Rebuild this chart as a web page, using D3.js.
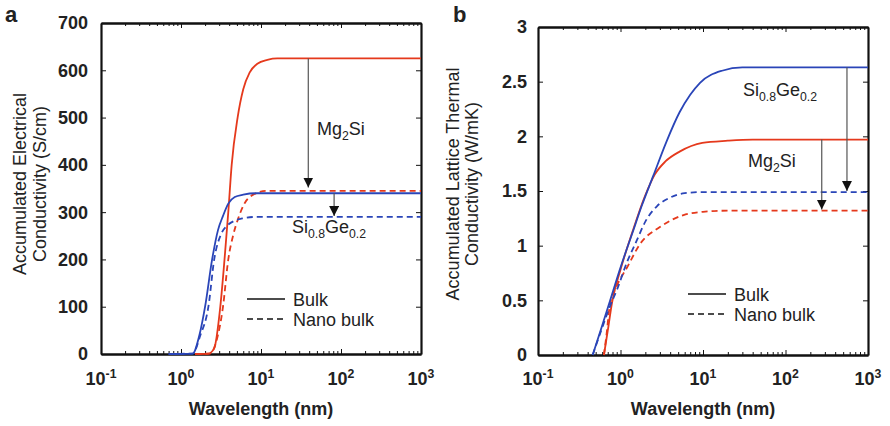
<!DOCTYPE html>
<html>
<head>
<meta charset="utf-8">
<script src="https://cdnjs.cloudflare.com/ajax/libs/d3/7.8.5/d3.min.js"></script>
<style>
    body { margin: 0; background: #fff; }
    text { font-family: "Liberation Sans", Arial, sans-serif; fill: #222; }
</style>
</head>
<body>
<script>
// wavelength axis (nm), shared by both panels
var wlDomain = [0.1, 1000];
var wlMajor = [0.1, 1, 10, 100, 1000];
var wlExp = ["-1", "0", "1", "2", "3"];

// panel a: accumulated electrical conductivity (S/cm), [wavelength, value]
var aTicks = [0, 100, 200, 300, 400, 500, 600, 700];
var aMgBulk = [[1.5, 0], [2.2, 1], [2.6, 12], [3.1, 100], [3.5, 200],
    [3.9, 300], [4.3, 400], [5.1, 500], [6, 560], [7.2, 595], [9, 614],
    [12, 622], [16, 625], [1000, 625]];
var aMgNano = [[1.5, 0], [2.3, 1], [2.8, 30], [3.35, 100], [3.9, 200],
    [4.5, 252], [5.1, 283], [6.3, 320], [8, 337], [12, 345], [1000, 345]];
var aSiBulk = [[0.7, 0], [1.4, 1], [1.7, 40], [2.0, 100], [2.45, 200],
    [2.9, 262], [3.35, 292], [3.9, 318], [4.7, 332], [6, 337], [8.5, 340],
    [1000, 340]];
var aSiNano = [[0.7, 0], [1.4, 1], [1.75, 40], [2.2, 100], [2.6, 200],
    [3.2, 255], [3.8, 272], [4.7, 282], [6, 287], [9, 290], [1000, 290]];

// panel b: accumulated lattice thermal conductivity (W/mK)
var bTicks = [0, 0.5, 1, 1.5, 2, 2.5, 3];
var bMgBulk = [[0.63, 0], [0.7, 0.22], [0.79, 0.48], [1.0, 0.78],
    [1.4, 1.13], [1.97, 1.45], [2.6, 1.65], [3.5, 1.77], [5.2, 1.86],
    [9.8, 1.94], [20, 1.96], [40, 1.97], [1000, 1.97]];
var bMgNano = [[0.63, 0], [0.68, 0.2], [0.74, 0.45], [0.9, 0.63],
    [1.2, 0.8], [1.74, 1.02], [3.0, 1.17], [5.8, 1.28], [10, 1.31],
    [20, 1.32], [1000, 1.32]];
var bSiBulk = [[0.46, 0], [0.6, 0.27], [0.75, 0.5], [1.0, 0.8],
    [1.4, 1.12], [1.8, 1.36], [2.5, 1.64], [3.6, 1.95], [5.2, 2.22],
    [7, 2.38], [9.2, 2.49], [17, 2.6], [30, 2.63], [1000, 2.63]];
var bSiNano = [[0.46, 0], [0.6, 0.25], [0.75, 0.45], [0.91, 0.6],
    [1.2, 0.85], [1.58, 1.05], [2.0, 1.22], [2.76, 1.36], [4.0, 1.44],
    [6, 1.48], [10, 1.49], [1000, 1.49]];

var red = "#e5391c", blue = "#2a45b8";

var svg = d3.select("body").append("svg")
    .attr("width", 890)
    .attr("height", 426);

svg.append("defs").append("marker")
    .attr("id", "head")
    .attr("viewBox", "0 0 10 10")
    .attr("refX", 10).attr("refY", 5)
    .attr("markerWidth", 10).attr("markerHeight", 10)
    .attr("markerUnits", "userSpaceOnUse")
    .attr("orient", "auto")
    .append("path")
    .attr("d", "M0,0 L10,5 L0,10 Z")
    .attr("fill", "#111");

// small helper for text with sub / superscript parts: [text, "sub"|"sup"|""]
function richText(sel, parts, size) {
    parts.forEach(function(p) {
        var t = sel.append("tspan").text(p[0]);
        if (p[1] === "sub") {
            t.attr("font-size", size * 0.68).attr("dy", size * 0.3);
        } else if (p[1] === "sup") {
            t.attr("font-size", size * 0.68).attr("dy", -size * 0.38);
        } else {
            t.attr("dy", p[2] || 0);
        }
    });
}

function drawPanel(o) {
    var x = d3.scaleLog().domain(wlDomain).range([o.left, o.right]);
    var y = d3.scaleLinear().domain([o.ticks[0], o.ticks[o.ticks.length - 1]])
        .range([o.bottom, o.top]);
    var g = svg.append("g");

    // minor ticks 2..9 in each decade
    var minor = [];
    wlMajor.slice(0, -1).forEach(function(d) {
        for (var k = 2; k < 10; k++) minor.push(d * k);
    });

    // bottom & top axes, ticks pointing in
    g.append("g")
        .attr("transform", "translate(0," + o.bottom + ")")
        .call(d3.axisBottom(x).tickValues(minor).tickSize(-3)
            .tickFormat("").tickSizeOuter(0));
    g.append("g")
        .attr("transform", "translate(0," + o.bottom + ")")
        .call(d3.axisBottom(x).tickValues(wlMajor).tickSize(-5)
            .tickFormat("").tickSizeOuter(0));
    g.append("g")
        .attr("transform", "translate(0," + o.top + ")")
        .call(d3.axisTop(x).tickValues(minor).tickSize(-3)
            .tickFormat("").tickSizeOuter(0));
    g.append("g")
        .attr("transform", "translate(0," + o.top + ")")
        .call(d3.axisTop(x).tickValues(wlMajor).tickSize(-5)
            .tickFormat("").tickSizeOuter(0));
    g.append("g")
        .attr("transform", "translate(" + o.left + ",0)")
        .call(d3.axisLeft(y).tickValues(o.ticks).tickSize(-5)
            .tickFormat("").tickSizeOuter(0));
    g.append("g")
        .attr("transform", "translate(" + o.right + ",0)")
        .call(d3.axisRight(y).tickValues(o.ticks).tickSize(-5)
            .tickFormat("").tickSizeOuter(0));
    g.selectAll(".domain").attr("stroke", "#111").attr("stroke-width", 2.2);
    g.selectAll(".tick line").attr("stroke", "#111").attr("stroke-width", 1);

    // y tick labels
    g.selectAll(".ylab")
        .data(o.ticks)
        .enter()
        .append("text")
        .attr("x", o.left - o.labGap)
        .attr("y", function(d) { return y(d); })
        .attr("dy", "0.36em")
        .attr("text-anchor", "end")
        .attr("font-size", 18)
        .attr("font-weight", "bold")
        .text(function(d) { return d; });

    // x tick labels as 10^n
    wlMajor.forEach(function(d, i) {
        var t = g.append("text")
            .attr("x", x(d))
            .attr("y", 385)
            .attr("text-anchor", "middle")
            .attr("font-size", 18)
            .attr("font-weight", "bold");
        richText(t, [["10", ""], [wlExp[i], "sup"]], 18);
    });

    g.append("text")
        .attr("x", (o.left + o.right) / 2)
        .attr("y", 415)
        .attr("text-anchor", "middle")
        .attr("font-size", 18)
        .attr("font-weight", "bold")
        .text("Wavelength (nm)");

    // two-line y title
    o.yTitle.forEach(function(s, i) {
        g.append("text")
            .attr("transform", "translate(" + o.yTitleX[i] + "," + o.yTitleY +
                ") rotate(-90)")
            .attr("text-anchor", "middle")
            .attr("font-size", 18)
            .text(s);
    });

    g.append("text")
        .attr("x", o.letterX).attr("y", 22)
        .attr("font-size", 22)
        .attr("font-weight", "bold")
        .text(o.letter);

    // curves
    var line = d3.line()
        .x(function(d) { return x(d[0]); })
        .y(function(d) { return y(d[1]); })
        .curve(d3.curveMonotoneX);
    o.series.forEach(function(s) {
        g.append("path")
            .datum(s.data)
            .attr("fill", "none")
            .attr("stroke", s.color)
            .attr("stroke-width", 1.8)
            .attr("stroke-dasharray", s.dash ? "6,4" : null)
            .attr("d", line);
    });

    // arrows from bulk plateau down to nano plateau
    o.arrows.forEach(function(a) {
        g.append("line")
            .attr("x1", x(a.wl)).attr("x2", x(a.wl))
            .attr("y1", y(a.from)).attr("y2", y(a.to))
            .attr("stroke", "#555")
            .attr("stroke-width", 1.2)
            .attr("marker-end", "url(#head)");
    });

    o.notes.forEach(function(n) {
        var t = g.append("text")
            .attr("x", n.x).attr("y", n.y)
            .attr("font-size", 18);
        richText(t, n.parts, 18);
    });

    // legend
    [["Bulk", null, o.legY], ["Nano bulk", "6,4", o.legY + 20]]
        .forEach(function(l) {
            g.append("line")
                .attr("x1", o.legX).attr("x2", o.legX + 38)
                .attr("y1", l[2]).attr("y2", l[2])
                .attr("stroke", "#111").attr("stroke-width", 1.6)
                .attr("stroke-dasharray", l[1]);
            g.append("text")
                .attr("x", o.legX + 46).attr("y", l[2] + 7)
                .attr("font-size", 18)
                .text(l[0]);
        });
}

drawPanel({
    letter: "a", letterX: 5,
    left: 101, right: 421, top: 23, bottom: 354, labGap: 13,
    ticks: aTicks,
    yTitle: ["Accumulated Electrical", "Conductivity (S/cm)"],
    yTitleX: [26, 46], yTitleY: 184,
    series: [
        {data: aMgBulk, color: red, dash: false},
        {data: aMgNano, color: red, dash: true},
        {data: aSiBulk, color: blue, dash: false},
        {data: aSiNano, color: blue, dash: true}
    ],
    arrows: [{wl: 39, from: 625, to: 352}, {wl: 82, from: 340, to: 292}],
    notes: [
        {x: 317, y: 135, parts: [["Mg", ""], ["2", "sub"], ["Si", "", -5.4]]},
        {x: 292, y: 233, parts: [["Si", ""], ["0.8", "sub"], ["Ge", "", -5.4],
            ["0.2", "sub"]]}
    ],
    legX: 247, legY: 299
});

drawPanel({
    letter: "b", letterX: 453,
    left: 538, right: 868, top: 27, bottom: 355, labGap: 11,
    ticks: bTicks,
    yTitle: ["Accumulated Lattice Thermal", "Conductivity (W/mK)"],
    yTitleX: [459, 478], yTitleY: 184,
    series: [
        {data: bMgBulk, color: red, dash: false},
        {data: bMgNano, color: red, dash: true},
        {data: bSiBulk, color: blue, dash: false},
        {data: bSiNano, color: blue, dash: true}
    ],
    arrows: [{wl: 556, from: 2.63, to: 1.5}, {wl: 275, from: 1.97, to: 1.33}],
    notes: [
        {x: 743, y: 96, parts: [["Si", ""], ["0.8", "sub"], ["Ge", "", -5.4],
            ["0.2", "sub"]]},
        {x: 748, y: 167, parts: [["Mg", ""], ["2", "sub"], ["Si", "", -5.4]]}
    ],
    legX: 688, legY: 294
});
</script>
</body>
</html>
